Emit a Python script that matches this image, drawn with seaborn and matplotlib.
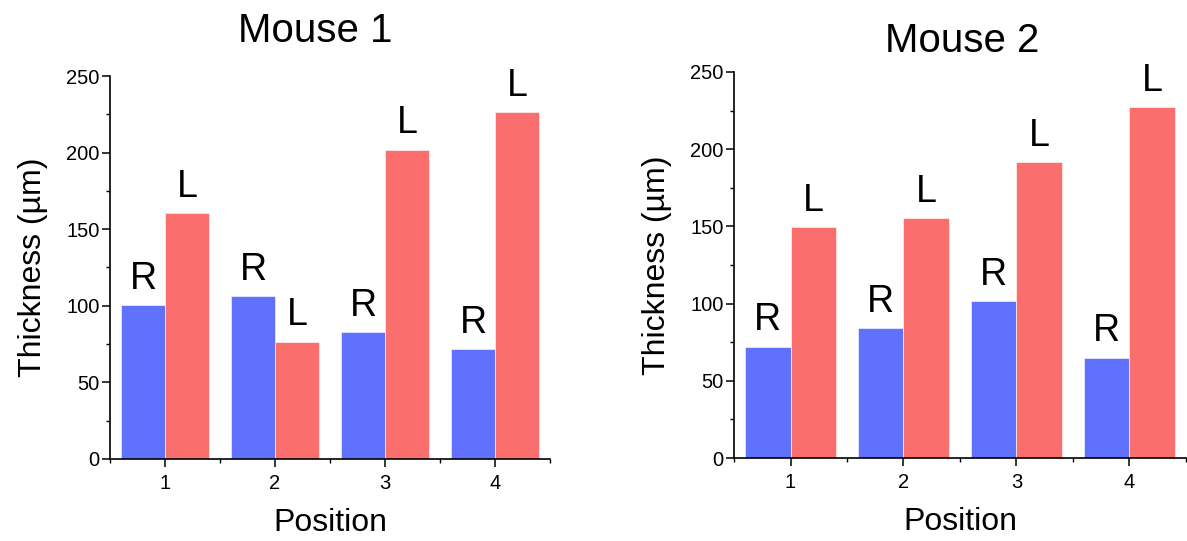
import pandas as pd
import matplotlib
matplotlib.use("Agg")
import matplotlib.pyplot as plt
from matplotlib.ticker import MultipleLocator
import seaborn as sns

# -----------------------------
# data
# -----------------------------
positions = [1, 2, 3, 4]
sides = ["R", "L"]
mouse1_right = [100.5, 106.5, 83, 71.5]
mouse1_left = [160.5, 76.5, 202, 226.5]
mouse2_right = [72, 84, 101.5, 65]
mouse2_left = [149.5, 155.5, 191.5, 227]

colors = {"R": "#6072fd", "L": "#fa6e6e"}

sns.set_style("ticks")
plt.rcParams["font.family"] = ["Liberation Sans", "DejaVu Sans"]
plt.rcParams["text.color"] = "black"
plt.rcParams["axes.labelcolor"] = "black"
plt.rcParams["xtick.color"] = "black"
plt.rcParams["ytick.color"] = "black"
plt.rcParams["axes.edgecolor"] = "black"


def make_df(right, left):
    return pd.DataFrame({
        "Position": positions * 2,
        "Side": ["R"] * len(right) + ["L"] * len(left),
        "Thickness": right + left,
    })


fig = plt.figure(figsize=(11.87, 5.41), dpi=100)
ax1 = fig.add_axes([0.0927, 0.1516, 0.3707, 0.7079])
ax2 = fig.add_axes([0.6184, 0.1534, 0.3806, 0.7136])

panels = [
    (ax1, make_df(mouse1_right, mouse1_left), "Mouse 1", (0.2654, 0.922)),
    (ax2, make_df(mouse2_right, mouse2_left), "Mouse 2", (0.811, 0.904)),
]

for ax, df, title, title_xy in panels:
    sns.barplot(
        data=df, x="Position", y="Thickness", hue="Side",
        hue_order=sides, palette=colors, native_scale=True,
        width=0.8, saturation=1, edgecolor="white", linewidth=0.4,
        legend=False, ax=ax,
    )
    for cont, lab in zip(ax.containers, sides):
        ax.bar_label(cont, labels=[lab] * len(cont), padding=6, fontsize=27,
                     color="black")

    ax.set_xlim(0.5, 4.5)
    ax.set_ylim(0, 250)
    ax.set_xticks(positions)
    ax.set_xticklabels([str(p) for p in positions])
    ax.set_xticks([0.5, 1.5, 2.5, 3.5, 4.5], minor=True)
    ax.yaxis.set_major_locator(MultipleLocator(50))
    ax.yaxis.set_minor_locator(MultipleLocator(25))
    ax.tick_params(which="major", direction="out", length=5.5, width=1.1,
                   labelsize=14.5, pad=2)
    ax.tick_params(axis="x", which="major", pad=5)
    ax.tick_params(which="minor", direction="out", length=3, width=1.0)
    for s in ["top", "right"]:
        ax.spines[s].set_visible(False)
    for s in ["left", "bottom"]:
        ax.spines[s].set_linewidth(1.2)

    ax.set_xlabel("Position", fontsize=23, labelpad=11)
    ax.set_ylabel("Thickness (\u00b5m)", fontsize=23, labelpad=13)
    fig.text(title_xy[0], title_xy[1], title, fontsize=29,
             ha="center", va="baseline")

fig.savefig("out.png", dpi=100)
